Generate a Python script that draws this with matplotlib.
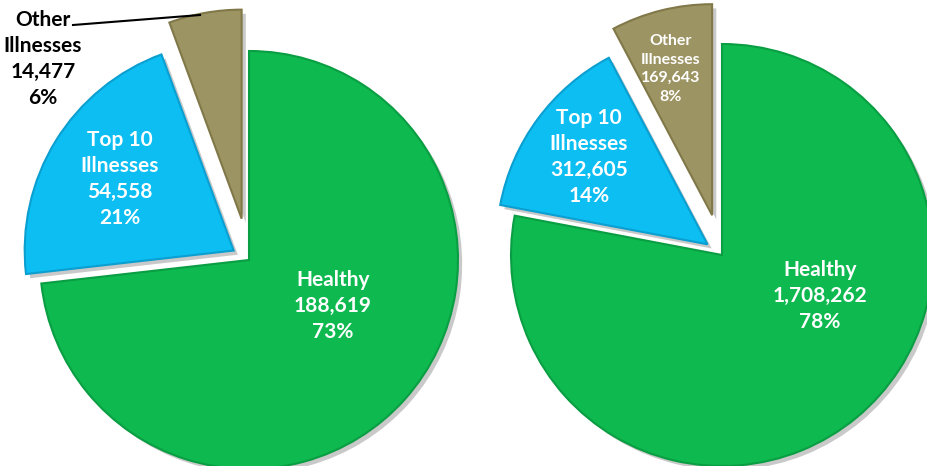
import matplotlib
matplotlib.use("Agg")
import matplotlib.pyplot as plt
import matplotlib.patheffects as pe

categories = ["Healthy", "Top 10\nIllnesses", "Other\nIllnesses"]
left_values = [188619, 54558, 14477]
left_pcts = ["73%", "21%", "6%"]
right_values = [1708262, 312605, 169643]
right_pcts = ["78%", "14%", "8%"]

colors = ["#0EB950", "#0DBEF3", "#9D9463"]
edges = ["#0A9E43", "#0A9FD0", "#817849"]

plt.rcParams['font.family'] = ['Lato', 'DejaVu Sans']

fig = plt.figure(figsize=(9.27, 4.66), dpi=100)
ax = fig.add_axes([0, 0, 1, 1])

shadow = [pe.SimplePatchShadow(offset=(3, -3), shadow_rgbFace='#888888', alpha=0.45), pe.Normal()]

def draw(values, center, radius, explode):
    wedges, _ = ax.pie(values, center=center, radius=radius, startangle=90,
                       counterclock=False, colors=colors, explode=explode,
                       wedgeprops=dict(linewidth=1.5), frame=True)
    for w, e in zip(wedges, edges):
        w.set_edgecolor(e)
        w.set_path_effects(shadow)
    return wedges

draw(left_values, (249, 206), 209, [0, 18, 42])
draw(right_values, (722, 211), 211, [0, 18, 41])
ax.set_xlim(0, 927)
ax.set_ylim(0, 466)
ax.set_aspect('equal')
ax.axis('off')

def fmt(v):
    return f"{v:,}"

fs = 15
ls = 1.38
def label(x, y, cat, val, pct, color='white', size=fs, spacing=ls):
    ax.text(x, 466 - y, f"{cat}\n{fmt(val)}\n{pct}", ha='center', va='center',
            color=color, fontsize=size, fontweight='bold', linespacing=spacing)

# Left pie labels
label(333, 306, categories[0], left_values[0], left_pcts[0])
label(120, 179, categories[1], left_values[1], left_pcts[1])
label(43, 59, categories[2], left_values[2], left_pcts[2], color='black')
ax.plot([73, 200], [466 - 25, 466 - 15], color='black', linewidth=1.5)

# Right pie labels
label(820, 296, categories[0], right_values[0], right_pcts[0])
label(589, 157, categories[1], right_values[1], right_pcts[1])
label(671, 69, categories[2], right_values[2], right_pcts[2], size=11.5, spacing=1.4)

fig.savefig("out.png", dpi=100)
